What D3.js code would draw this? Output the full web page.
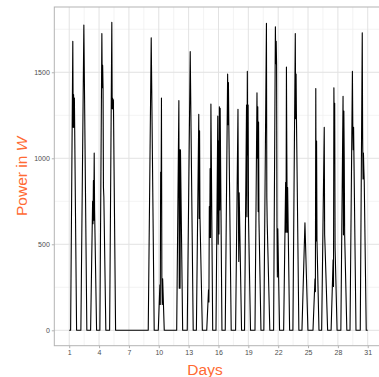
<!DOCTYPE html>
<html>
<head>
<meta charset="utf-8">
<script src="https://cdn.jsdelivr.net/npm/d3@7"></script>
<style>
  body { margin: 0; background: #fff; }
  svg { display: block; }
</style>
</head>
<body>
<svg id="svg" width="379" height="377"></svg>
<script>
// tick labels
var dayTicks = [1, 4, 7, 10, 13, 16, 19, 22, 25, 28, 31];
var dayMinor = [2.5, 5.5, 8.5, 11.5, 14.5, 17.5, 20.5, 23.5, 26.5, 29.5, 32.5];
var powerTicks = [0, 500, 1000, 1500];
var powerMinor = [250, 750, 1250, 1750];

// first and last day of the series
var firstDay = 1;
var lastDay = 31;

// middle of each daylight bump (in days)
var bumpCenters = [1.44, 2.47, 3.45, 4.38, 5.36, 9.24, 10.25, 12.1, 13.16, 14.08,
    15.12, 16.05, 16.98, 18.02, 18.92, 19.97, 20.86, 21.84, 22.85, 23.78,
    24.69, 25.8, 26.67, 27.62, 28.6, 29.52, 30.55];

// power readings around midday for each bump (W)
var bumpValues = [
    [1680, 1180, 1370, 1180, 1350],
    [1775],
    [750, 620, 870, 640, 1030, 700],
    [1725, 1410, 1540, 1410, 830, 775],
    [1790, 1290, 1350, 1285, 1340],
    [1700],
    [265, 150, 920, 770, 1350, 300, 150, 300],
    [1335, 245, 1050, 245, 1050],
    [1620],
    [1255, 650, 1160, 660],
    [235, 165, 720, 540, 940, 540, 1315],
    [1245, 500, 1100, 560, 1300, 700, 1290],
    [1490, 1195, 1440, 1200],
    [1285, 750, 400, 800],
    [1310, 660, 1505, 1020, 1310, 650],
    [1380, 1000, 1300, 690, 1210, 640],
    [1785, 770, 620],
    [1765, 1550, 1680, 1545, 600, 310, 590],
    [860, 570, 1530, 1020, 570, 830],
    [1725, 1230, 1490, 1225],
    [625],
    [300, 225, 1405, 520, 1100, 520],
    [1180, 555, 490],
    [410, 255, 1410, 1090, 1320, 480],
    [1360, 555, 1275, 1000, 560],
    [1505, 1190, 1050, 1180],
    [1730, 1120, 880, 1030, 935, 865]
];

var rampHalf = 0.3;   // sunrise/sunset distance from bump middle (days)
var step = 0.04;      // spacing between midday readings (days)

// build the time series
var series = [{d: firstDay, p: 0}];
bumpCenters.forEach(function(c, k) {
    var vals = bumpValues[k];
    var n = vals.length;
    series.push({d: c - rampHalf, p: 0});
    vals.forEach(function(v, i) {
        series.push({d: c + (i - (n - 1) / 2) * step, p: v});
    });
    series.push({d: c + rampHalf, p: 0});
});
series.push({d: lastDay, p: 0});

var svg = d3.select('svg');

var panelLeft = 54.3;
var panelTop = 7;
var panelBottom = 345.7;

var x = d3.scaleLinear()
    .domain([-0.5, 32.5])
    .range([panelLeft, panelLeft + 33 * 9.95]);

var y = d3.scaleLinear()
    .domain([-89.5, 1879.5])
    .range([panelBottom, panelTop]);

var panelRight = x(32.5);

// panel background
svg.append('rect')
    .attr('x', panelLeft).attr('y', panelTop)
    .attr('width', panelRight - panelLeft).attr('height', panelBottom - panelTop)
    .attr('fill', 'white');

// minor grid
svg.append('g').selectAll('line')
    .data(dayMinor)
    .enter().append('line')
    .attr('x1', function(d){ return x(d); }).attr('x2', function(d){ return x(d); })
    .attr('y1', panelTop).attr('y2', panelBottom)
    .attr('stroke', '#eeeeee').attr('stroke-width', 0.7);

svg.append('g').selectAll('line')
    .data(powerMinor)
    .enter().append('line')
    .attr('y1', function(d){ return y(d); }).attr('y2', function(d){ return y(d); })
    .attr('x1', panelLeft).attr('x2', panelRight)
    .attr('stroke', '#eeeeee').attr('stroke-width', 0.7);

// major grid
svg.append('g').selectAll('line')
    .data(dayTicks)
    .enter().append('line')
    .attr('x1', function(d){ return x(d); }).attr('x2', function(d){ return x(d); })
    .attr('y1', panelTop).attr('y2', panelBottom)
    .attr('stroke', '#e2e2e2').attr('stroke-width', 1);

svg.append('g').selectAll('line')
    .data(powerTicks)
    .enter().append('line')
    .attr('y1', function(d){ return y(d); }).attr('y2', function(d){ return y(d); })
    .attr('x1', panelLeft).attr('x2', panelRight)
    .attr('stroke', '#e2e2e2').attr('stroke-width', 1);

// the power line
var line = d3.line()
    .x(function(d){ return x(d.d); })
    .y(function(d){ return y(d.p); });

svg.append('path')
    .datum(series)
    .attr('d', line)
    .attr('fill', 'none')
    .attr('stroke', 'black')
    .attr('stroke-width', 1.1)
    .attr('stroke-linejoin', 'round');

// panel border
svg.append('rect')
    .attr('x', panelLeft).attr('y', panelTop)
    .attr('width', panelRight - panelLeft).attr('height', panelBottom - panelTop)
    .attr('fill', 'none')
    .attr('stroke', '#b3b3b3').attr('stroke-width', 1);

// axes
var xAxis = d3.axisBottom(x).tickValues(dayTicks).tickFormat(d3.format('d')).tickSize(2.5).tickPadding(2);
var yAxis = d3.axisLeft(y).tickValues(powerTicks).tickFormat(d3.format('d')).tickSize(2.5).tickPadding(2);

var gx = svg.append('g')
    .attr('transform', 'translate(0,' + panelBottom + ')')
    .call(xAxis);
var gy = svg.append('g')
    .attr('transform', 'translate(' + panelLeft + ',0)')
    .call(yAxis);

[gx, gy].forEach(function(g) {
    g.select('.domain').remove();
    g.selectAll('.tick line').attr('stroke', '#b3b3b3');
    g.selectAll('.tick text')
        .attr('fill', '#4d4d4d')
        .style('font-family', 'Liberation Sans, Arial, sans-serif')
        .style('font-size', '7px');
});

// axis titles
svg.append('text')
    .attr('x', 205)
    .attr('y', 374.5)
    .attr('text-anchor', 'middle')
    .attr('fill', '#ff6a33')
    .style('font-family', 'Liberation Sans, Arial, sans-serif')
    .style('font-size', '15.5px')
    .text('Days');

var yt = svg.append('text')
    .attr('transform', 'translate(26.5,' + ((panelTop + panelBottom) / 2) + ') rotate(-90)')
    .attr('text-anchor', 'middle')
    .attr('fill', '#ff6a33')
    .style('font-family', 'Liberation Sans, Arial, sans-serif')
    .style('font-size', '15.5px');
yt.append('tspan').text('Power in ');
yt.append('tspan').style('font-style', 'italic').text('W');
</script>
</body>
</html>
